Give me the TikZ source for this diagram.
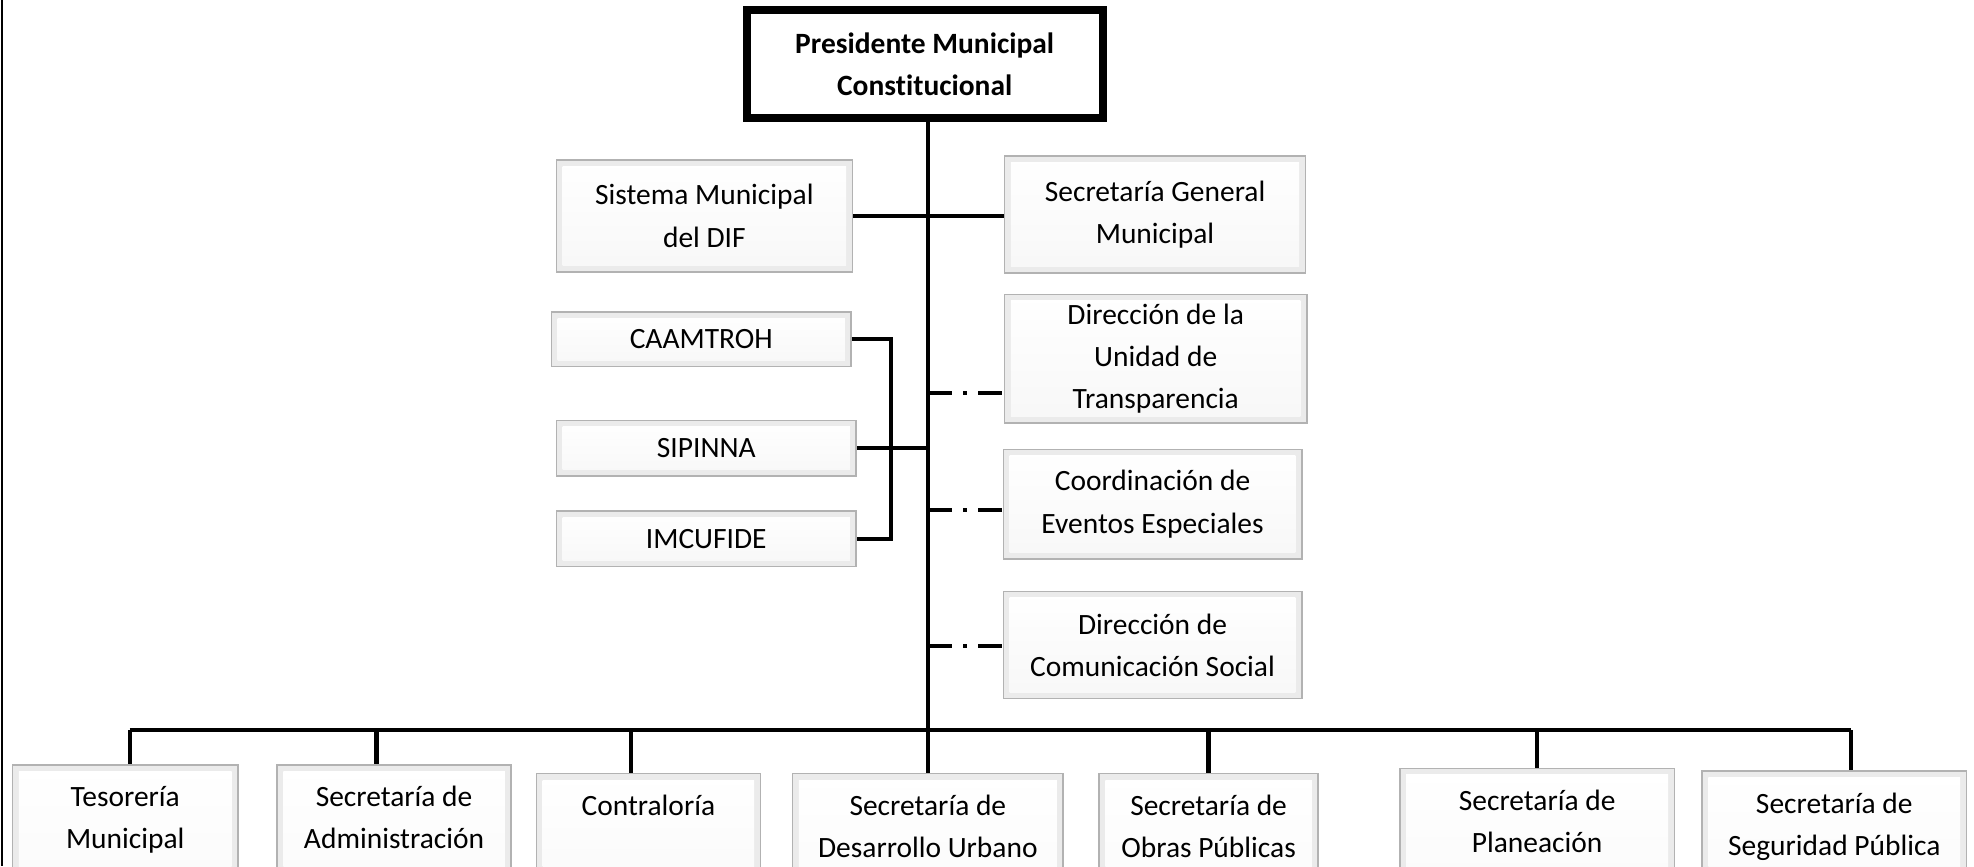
\documentclass[tikz,border=0pt]{standalone}
\usepackage{fontspec}
\setmainfont{Carlito}[Ligatures=NoCommon]

\begin{document}
\begin{tikzpicture}[x=0.5pt, y=-0.5pt, font=\fontsize{11.7}{16.75}\selectfont,
    unidad/.style={draw=gray!60, line width=0.6pt, fill=gray!16, align=center, inner sep=0pt,
        path picture={\shade[top color=white, bottom color=gray!6]
            ([shift={(2.5pt,-2.5pt)}]path picture bounding box.north west) rectangle
            ([shift={(-2.5pt,2.5pt)}]path picture bounding box.south east);}},
    inferior/.style={unidad, anchor=north, inner ysep=8.5pt, text depth=40pt},
    titular/.style={draw, line width=2.6pt, fill=white, align=center, inner sep=0pt},
    linea/.style={line width=1.7pt},
    punteada/.style={line width=1.7pt, dash pattern=on 9.5pt off 4.5pt on 1.5pt off 4.5pt}]
        \useasboundingbox (0,0) rectangle (1568,688);
        \clip (0,0) rectangle (1568,688);
        \draw[line width=0.8pt] (1.6,0) -- (1.6,688);

        % titular
        \node[titular, minimum width=141.9pt, minimum height=43.4pt] (pres) at (734.5,51) {\bfseries Presidente Municipal\\\bfseries Constitucional};
        \draw[line width=0.6pt] ([shift={(2.9pt,-2.9pt)}]pres.north west) rectangle ([shift={(-2.9pt,2.9pt)}]pres.south east);

        % staff
        \node[unidad, minimum width=117.5pt, minimum height=44.5pt] (dif) at (559.5,171.5) {Sistema Municipal\\del DIF};
        \node[unidad, minimum width=119.5pt, minimum height=46.5pt] (secgen) at (917.5,170.5) {Secretaría General\\Municipal};
        \node[unidad, minimum width=119pt, minimum height=21.5pt] (caam) at (557,269.5) {CAAMTROH};
        \node[unidad, minimum width=119pt, minimum height=22pt] (sipinna) at (561,356) {SIPINNA};
        \node[unidad, minimum width=119pt, minimum height=22pt] (imcufide) at (561,428) {IMCUFIDE};
        \node[unidad, minimum width=120pt, minimum height=51pt] (transp) at (918,285) {Dirección de la\\Unidad de\\Transparencia};
        \node[unidad, minimum width=118.5pt, minimum height=43.5pt] (eventos) at (915.5,400.5) {Coordinación de\\Eventos Especiales};
        \node[unidad, minimum width=118.5pt, minimum height=42.5pt] (comsoc) at (915.5,512.5) {Dirección de\\Comunicación Social};

        % secretarias
        \node[inferior, minimum width=89.5pt] (teso) at (99.5,607) {Tesorería\\Municipal};
        \node[inferior, minimum width=93pt] (admin) at (313,607) {Secretaría de\\Administración};
        \node[inferior, minimum width=89pt, inner xsep=18pt, text width=53pt, align=left] (contra) at (515,614) {Contraloría};
        \node[inferior, minimum width=107.5pt] (desurb) at (737,614) {Secretaría de\\Desarrollo Urbano};
        \node[inferior, minimum width=87pt] (obras) at (960,614) {Secretaría de\\Obras Públicas};
        \node[inferior, minimum width=109pt] (planea) at (1221,610) {Secretaría de\\Planeación};
        \node[inferior, minimum width=105pt] (segur) at (1457,612) {Secretaría de\\Seguridad Pública};

        % lineas
        \draw[linea] (pres.south -| desurb.north) -- (desurb.north);
        \draw[linea] (dif.east) -- (dif.east -| secgen.west);
        \draw[linea] (caam.east) -- ++(31,0) |- (imcufide.east);
        \draw[linea] (sipinna.east) -- (sipinna.east -| desurb.north);
        \coordinate (t1) at (737,312);
        \coordinate (t2) at (737,405);
        \coordinate (t3) at (737,513);
        \draw[punteada] (t1) -- (t1 -| transp.west);
        \draw[punteada] (t2) -- (t2 -| eventos.west);
        \draw[punteada] (t3) -- (t3 -| comsoc.west);

        \coordinate (c1) at (103,580);
        \coordinate (c2) at (299,580);
        \coordinate (c3) at (501,580);
        \coordinate (c5) at (960,580);
        \coordinate (c6) at (1221,580);
        \coordinate (c7) at (1470,580);
        \draw[linea] (c1) -- (c7);
        \foreach \c/\n in {c1/teso, c2/admin, c3/contra, c5/obras, c6/planea, c7/segur}
            \draw[linea] (\c) -- (\c |- \n.north);
    \end{tikzpicture}
\end{document}
